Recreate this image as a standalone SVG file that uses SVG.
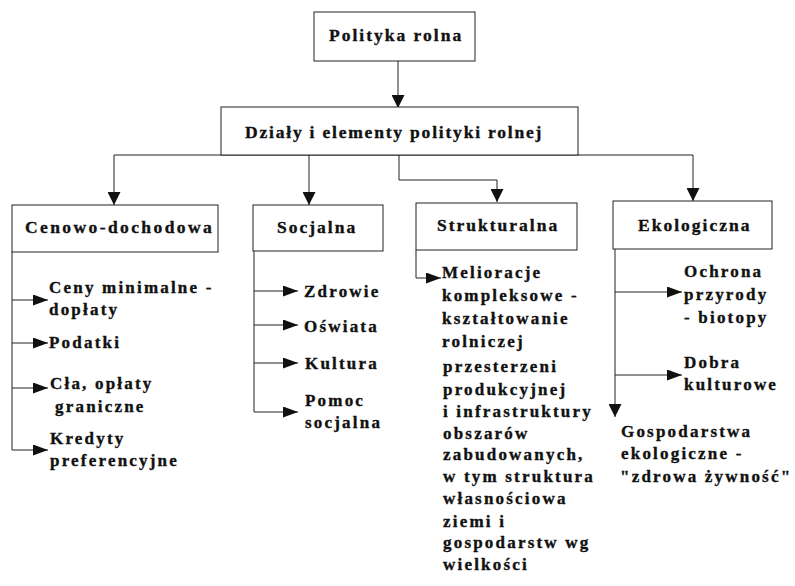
<svg xmlns="http://www.w3.org/2000/svg" width="795" height="586" viewBox="0 0 795 586">
<style>
.box{fill:#fff;stroke:#222;stroke-width:1}
.c{fill:none;stroke:#222;stroke-width:1}
.t text{font-family:'Liberation Serif',Tinos,'Times New Roman',serif;font-weight:700;font-size:17px;letter-spacing:2.2px;fill:#111;stroke:#111;stroke-width:0.35}
.t .h{font-size:17.5px;letter-spacing:2px}
</style>
<defs>
<marker id="ad" markerUnits="userSpaceOnUse" markerWidth="13" markerHeight="13" refX="13" refY="6.5" orient="auto">
<path d="M0,0 L13,6.5 L0,13 z" fill="#111"/>
</marker>
<marker id="as" markerUnits="userSpaceOnUse" markerWidth="15" markerHeight="11" refX="15" refY="5.5" orient="auto">
<path d="M0,0 L15,5.5 L0,11 z" fill="#111"/>
</marker>
</defs>
<g id="connectors">
<path class="c" d="M398,61 V108" marker-end="url(#ad)"/>
<path class="c" d="M114,155 H693"/>
<path class="c" d="M114,155 V205" marker-end="url(#ad)"/>
<path class="c" d="M309,155 V205" marker-end="url(#ad)"/>
<path class="c" d="M399,155 V180 H497 V202" marker-end="url(#ad)"/>
<path class="c" d="M693,155 V201" marker-end="url(#ad)"/>
<path class="c" d="M12,252 V450 H48" marker-end="url(#as)"/>
<path class="c" d="M12,300 H48" marker-end="url(#as)"/>
<path class="c" d="M12,343 H48" marker-end="url(#as)"/>
<path class="c" d="M12,388 H48" marker-end="url(#as)"/>
<path class="c" d="M254,251 V412 H298" marker-end="url(#as)"/>
<path class="c" d="M254,291 H298" marker-end="url(#as)"/>
<path class="c" d="M254,325 H298" marker-end="url(#as)"/>
<path class="c" d="M254,363 H298" marker-end="url(#as)"/>
<path class="c" d="M416,250 V278 H441" marker-end="url(#as)"/>
<path class="c" d="M615,249 V417" marker-end="url(#ad)"/>
<path class="c" d="M615,292 H682" marker-end="url(#as)"/>
<path class="c" d="M615,375 H682" marker-end="url(#as)"/>
</g>
<g class="t">
<g id="polityka">
<rect class="box" x="314" y="12" width="161" height="49"/>
<text class="h" x="329" y="41">Polityka rolna</text>
</g>
<g id="dzialy">
<rect class="box" x="221" y="107" width="357" height="48"/>
<text class="h" x="245" y="138" style="letter-spacing:1.8px">Działy i elementy polityki rolnej</text>
</g>
<g id="cenowo">
<rect class="box" x="12" y="205" width="206" height="47"/>
<text class="h" x="25" y="233" style="letter-spacing:2.4px">Cenowo-dochodowa</text>
</g>
<g id="socjalna">
<rect class="box" x="253" y="205" width="130" height="46"/>
<text class="h" x="277" y="233">Socjalna</text>
</g>
<g id="strukturalna">
<rect class="box" x="416" y="203" width="161" height="47"/>
<text class="h" x="437" y="231">Strukturalna</text>
</g>
<g id="ekologiczna">
<rect class="box" x="613" y="201" width="159" height="48"/>
<text class="h" x="638" y="231">Ekologiczna</text>
</g>
<g id="ceny">
<text x="49" y="293">Ceny minimalne -</text>
<text x="49" y="315">dopłaty</text>
</g>
<g id="podatki">
<text x="49" y="348">Podatki</text>
</g>
<g id="cla">
<text x="50" y="389">Cła, opłaty</text>
<text x="55" y="412">graniczne</text>
</g>
<g id="kredyty">
<text x="50" y="444">Kredyty</text>
<text x="50" y="466">preferencyjne</text>
</g>
<g id="zdrowie"><text x="304" y="297">Zdrowie</text></g>
<g id="oswiata"><text x="304" y="332">Oświata</text></g>
<g id="kultura"><text x="305" y="369">Kultura</text></g>
<g id="pomoc">
<text x="305" y="406">Pomoc</text>
<text x="305" y="428">socjalna</text>
</g>
<g id="melioracje">
<text x="442" y="278">Melioracje</text>
<text x="442" y="301">kompleksowe -</text>
<text x="442" y="324">kształtowanie</text>
<text x="442" y="347">rolniczej</text>
<text x="443" y="372">przesterzeni</text>
<text x="443" y="395">produkcyjnej</text>
<text x="443" y="417">i infrastruktury</text>
<text x="443" y="439">obszarów</text>
<text x="443" y="460">zabudowanych,</text>
<text x="443" y="482">w tym struktura</text>
<text x="443" y="504">własnościowa</text>
<text x="443" y="527">ziemi i</text>
<text x="443" y="548">gospodarstw wg</text>
<text x="443" y="570">wielkości</text>
</g>
<g id="ochrona">
<text x="684" y="277">Ochrona</text>
<text x="684" y="300">przyrody</text>
<text x="684" y="323">- biotopy</text>
</g>
<g id="dobra">
<text x="684" y="368">Dobra</text>
<text x="684" y="390">kulturowe</text>
</g>
<g id="gospodarstwa">
<text x="621" y="437">Gospodarstwa</text>
<text x="621" y="459">ekologiczne -</text>
<text x="620" y="482">"zdrowa żywność"</text>
</g>
</g>
</svg>
